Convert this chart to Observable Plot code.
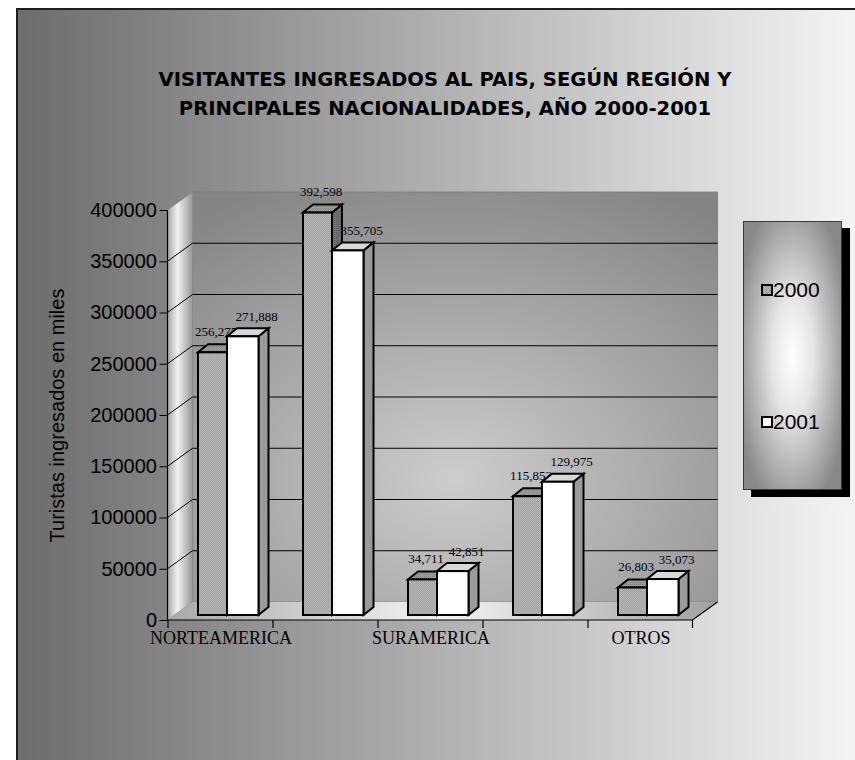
<!DOCTYPE html>
<html><head><meta charset="utf-8">
<script src="https://cdn.jsdelivr.net/npm/d3@7"></script>
<script src="https://cdn.jsdelivr.net/npm/@observablehq/plot@0.6"></script>
<style>
body{margin:0;width:855px;height:760px;overflow:hidden;background:#fff;position:relative;font-family:"Liberation Sans",Arial,sans-serif}
#panel{position:absolute;left:16px;top:8px;width:839px;height:752px;box-sizing:border-box;border-left:2px solid #1e1e1e;border-top:2px solid #1e1e1e;background:linear-gradient(to right,#6c6c6c,#f4f4f4)}
#title{position:absolute;left:145px;top:65px;width:600px;text-align:center;font-family:"DejaVu Sans",sans-serif;font-weight:bold;font-size:19.6px;line-height:29px;color:#000;white-space:nowrap}
#chart{position:absolute;left:0;top:170px}
#legend{position:absolute;left:743px;top:221px;width:99px;height:269px;box-sizing:border-box;border:1px solid #3a3a3a;background:radial-gradient(ellipse 60% 62% at 50% 50%,#ffffff 0%,#e6e6e6 35%,#888888 100%);box-shadow:8px 7px 0 #000}
#legend .sw{position:absolute;left:17px;width:12px;height:12px;box-sizing:border-box;border:2px solid #000}
#legend .tx{position:absolute;left:29px;font-size:21px;line-height:21px;color:#000}
</style></head>
<body>
<svg width="0" height="0" style="position:absolute">
 <defs>
  <pattern id="p2000" width="2" height="2" patternUnits="userSpaceOnUse"><rect width="2" height="2" fill="#b6b6b6"/><rect width="1" height="1" fill="#9e9e9e"/><rect x="1" y="1" width="1" height="1" fill="#a6a6a6"/></pattern>
  <pattern id="p2000top" width="2" height="2" patternUnits="userSpaceOnUse"><rect width="2" height="2" fill="#9a9a9a"/><rect width="1" height="1" fill="#868686"/></pattern>
  <pattern id="p2000side" width="2" height="2" patternUnits="userSpaceOnUse"><rect width="2" height="2" fill="#707070"/><rect width="1" height="1" fill="#5c5c5c"/></pattern>
  <radialGradient id="gBack" cx="0.5" cy="0.7" r="0.8">
   <stop offset="0" stop-color="#cdcdcd"/><stop offset="1" stop-color="#858585"/>
  </radialGradient>
  <linearGradient id="gLeft" x1="0" x2="1" y1="0" y2="0">
   <stop offset="0" stop-color="#a4a4a4"/><stop offset="0.4" stop-color="#f2f2f2"/><stop offset="1" stop-color="#979797"/>
  </linearGradient>
  <linearGradient id="gFloor" x1="0" x2="1" y1="0" y2="0">
   <stop offset="0" stop-color="#a8a8a8"/><stop offset="0.5" stop-color="#f4f4f4"/><stop offset="1" stop-color="#a0a0a0"/>
  </linearGradient>
 </defs>
</svg>
<div id="panel"></div>
<div id="title">VISITANTES INGRESADOS AL PAIS, SEGÚN REGIÓN Y<br>PRINCIPALES NACIONALIDADES, AÑO 2000-2001</div>
<div id="chart"></div>
<div id="legend">
 <span class="sw" style="top:62px;background:repeating-conic-gradient(#9e9e9e 0 25%,#b6b6b6 0 50%) 0 0/2px 2px"></span><span class="tx" style="top:57px">2000</span>
 <span class="sw" style="top:194px;background:#fff"></span><span class="tx" style="top:189px">2001</span>
</div>
<script>
const categorias = ["NORTEAMERICA", "CENTROAMERICA", "SURAMERICA", "EUROPA", "OTROS"];
const etiquetasX = ["NORTEAMERICA", "", "SURAMERICA", "", "OTROS"];
const series = ["2000", "2001"];
const valores2000 = [256275, 392598, 34711, 115853, 26803];
const valores2001 = [271888, 355705, 42851, 129975, 35073];
const ticksY = [0, 50000, 100000, 150000, 200000, 250000, 300000, 350000, 400000];
const tituloY = "Turistas ingresados en miles";

const filas2000 = categorias.map((c, i) => ({cat: c, serie: series[0], valor: valores2000[i]}));
const filas2001 = categorias.map((c, i) => ({cat: c, serie: series[1], valor: valores2001[i]}));
const fmt = d3.format(",");

const D = 25, E = 18;      // wall depth
const BD = 10, BE = 8;     // bar depth
const LIFT = 5;            // bar sits behind the front edge
const span = {"2000": [30, 59], "2001": [59, 90.5]};

const walls = (index, scales, values, dim) => {
  const y = scales.y;
  const x0 = dim.marginLeft, x1 = dim.width - dim.marginRight;
  const y0 = y(0), yT = y(ticksY[ticksY.length - 1]);
  const g = d3.create("svg:g");
  g.append("rect").attr("x", x0 + D).attr("y", yT - E).attr("width", x1 - x0).attr("height", y0 - yT)
    .attr("fill", "url(#gBack)").attr("stroke", "#7a7a7a").attr("stroke-width", 0.8);
  g.append("path").attr("d", `M${x0},${y0}L${x0 + D},${y0 - E}L${x0 + D},${yT - E}L${x0},${yT}Z`)
    .attr("fill", "url(#gLeft)").attr("stroke", "#8a8a8a").attr("stroke-width", 0.8);
  g.append("path").attr("d", `M${x0},${y0}L${x1},${y0}L${x1 + D},${y0 - E}L${x0 + D},${y0 - E}Z`)
    .attr("fill", "url(#gFloor)");
  ticksY.filter(t => t > 0 && t < ticksY[ticksY.length - 1]).forEach(t => {
    g.append("path").attr("d", `M${x0},${y(t)}L${x0 + D},${y(t) - E}L${x1 + D},${y(t) - E}`)
      .attr("fill", "none").attr("stroke", "#000").attr("stroke-width", 1);
  });
  return g.node();
};

const caras = (vals, key, topFill, sideFill) => (index, scales) => {
  const x = scales.x, y = scales.y;
  const [l, r] = span[key];
  const g = d3.create("svg:g").attr("stroke", "#000").attr("stroke-width", 2).attr("stroke-linejoin", "miter");
  categorias.forEach((c, i) => {
    const xl = x(c) + l, xr = x(c) + r;
    const yb = y(0) - LIFT, yt = y(vals[i]) - LIFT;
    g.append("path").attr("d", `M${xr},${yb}L${xr + BD},${yb - BE}L${xr + BD},${yt - BE}L${xr},${yt}Z`).attr("fill", sideFill);
    g.append("path").attr("d", `M${xl},${yt}L${xr},${yt}L${xr + BD},${yt - BE}L${xl + BD},${yt - BE}Z`).attr("fill", topFill);
  });
  return g.node();
};

const ejes = (index, scales, values, dim) => {
  const y = scales.y, x = scales.x;
  const x0 = dim.marginLeft, x1 = dim.width - dim.marginRight;
  const y0 = y(0), yT = y(ticksY[ticksY.length - 1]);
  const g = d3.create("svg:g").attr("stroke", "#000").attr("fill", "none").attr("stroke-width", 1.2);
  g.append("path").attr("d", `M${x0},${y0}V${yT}`);
  g.append("path").attr("d", `M${x0},${y0}H${x1}L${x1 + D},${y0 - E}`);
  categorias.forEach((c, i) => g.append("path").attr("d", `M${x(c)},${y0}v8`));
  g.append("path").attr("d", `M${x1},${y0}v8`);
  return g.node();
};

const chart = Plot.plot({
  width: 740,
  height: 510,
  marginLeft: 167.5,
  marginRight: 47.5,
  marginTop: 40,
  marginBottom: 60,
  style: {background: "transparent", overflow: "visible", fontFamily: "'Liberation Sans', Arial, sans-serif", fontSize: "20px", color: "#000"},
  x: {type: "band", domain: categorias, padding: 0, axis: null},
  y: {domain: [0, 400000], ticks: ticksY, tickFormat: d3.format("d"), tickSize: 8, tickPadding: 3, label: null},
  marks: [
    walls,
    Plot.text(filas2000, {x: "cat", y: "valor", text: d => fmt(d.valor), dx: -5, dy: -26, fontFamily: "'Liberation Serif', serif", fontSize: 13, fill: "#000"}),
    Plot.text(filas2001, {x: "cat", y: "valor", text: d => fmt(d.valor), dx: 35.5, dy: -25, fontFamily: "'Liberation Serif', serif", fontSize: 13, fill: "#000"}),
    caras(valores2000, "2000", "url(#p2000top)", "url(#p2000side)"),
    Plot.barY(filas2000, {x: "cat", y: "valor", insetLeft: span["2000"][0], insetRight: 105 - span["2000"][1], dy: -LIFT, fill: "url(#p2000)", stroke: "#000", strokeWidth: 2}),
    caras(valores2001, "2001", "#d8d8d8", "#9a9a9a"),
    Plot.barY(filas2001, {x: "cat", y: "valor", insetLeft: span["2001"][0], insetRight: 105 - span["2001"][1], dy: -LIFT, fill: "#ffffff", stroke: "#000", strokeWidth: 2}),
    ejes,
    Plot.text(categorias, {x: d => d, text: (d, i) => etiquetasX[i], frameAnchor: "bottom", dy: 23, fontFamily: "'Liberation Serif', serif", fontSize: 18, fill: "#000"}),
    Plot.text([tituloY], {frameAnchor: "left", textAnchor: "middle", dx: -110, rotate: -90, fontSize: 20, fill: "#000"})
  ]
});
document.getElementById("chart").append(chart);
</script>
</body></html>
